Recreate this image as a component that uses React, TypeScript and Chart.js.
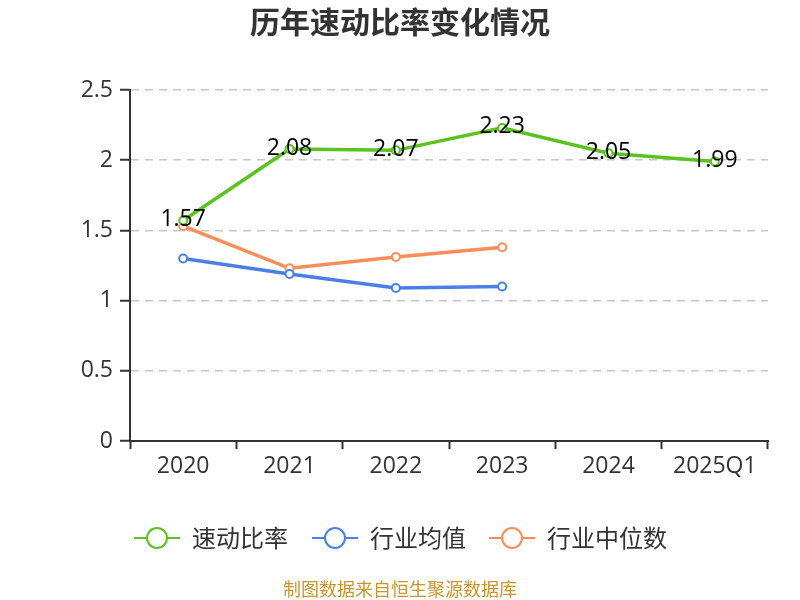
import { useEffect, useRef } from "react";
import { Chart, registerables } from "chart.js";

Chart.register(...registerables);

const FONT = "'Noto Sans CJK SC', 'Noto Sans', sans-serif";
const NUM_FONT = "'Open Sans', 'Noto Sans CJK SC', sans-serif";

const categories = ["2020", "2021", "2022", "2023", "2024", "2025Q1"];
const quickRatio = [1.57, 2.08, 2.07, 2.23, 2.05, 1.99];
const industryAvg = [1.3, 1.19, 1.09, 1.1, null, null];
const industryMedian = [1.53, 1.23, 1.31, 1.38, null, null];
const yTicks = [0, 0.5, 1, 1.5, 2, 2.5];

const seriesNames = ["速动比率", "行业均值", "行业中位数"];
const seriesColors = ["#5bc21f", "#4a7fe6", "#fd8d58"];

// labels on the main series, drawn over the points
const valueLabels = {
  id: "valueLabels",
  afterDatasetsDraw(chart: Chart) {
    const ctx = chart.ctx;
    const meta = chart.getDatasetMeta(0);
    ctx.save();
    ctx.font = `23px ${NUM_FONT}`;
    ctx.fillStyle = "#000";
    ctx.textAlign = "center";
    ctx.textBaseline = "middle";
    meta.data.forEach((pt, i) => {
      ctx.fillText(String(quickRatio[i]), pt.x, pt.y - 1);
    });
    ctx.restore();
  },
};

// title, legend and source note
const decorations = {
  id: "decorations",
  afterDraw(chart: Chart) {
    const ctx = chart.ctx;
    ctx.save();
    ctx.textAlign = "center";
    ctx.textBaseline = "middle";
    ctx.fillStyle = "#333";
    ctx.font = `bold 30px ${FONT}`;
    ctx.fillText("历年速动比率变化情况", 400, 22);

    const starts = [134, 312, 489];
    ctx.font = `24px ${FONT}`;
    ctx.textAlign = "left";
    seriesNames.forEach((name, i) => {
      const x = starts[i];
      const y = 538;
      ctx.strokeStyle = seriesColors[i];
      ctx.lineWidth = 2;
      ctx.beginPath();
      ctx.moveTo(x, y);
      ctx.lineTo(x + 46, y);
      ctx.stroke();
      ctx.beginPath();
      ctx.arc(x + 23, y, 10, 0, Math.PI * 2);
      ctx.fillStyle = "#fff";
      ctx.fill();
      ctx.stroke();
      ctx.fillStyle = "#333";
      ctx.fillText(name, x + 58, y);
    });

    ctx.textAlign = "center";
    ctx.font = `18px ${FONT}`;
    ctx.fillStyle = "#c8962a";
    ctx.fillText("制图数据来自恒生聚源数据库", 400, 589);
    ctx.restore();
  },
};

function line(label: string, data: (number | null)[], color: string) {
  return {
    label,
    data,
    borderColor: color,
    backgroundColor: "#fff",
    borderWidth: 3.5,
    pointRadius: 4,
    pointBorderWidth: 2,
    pointBackgroundColor: "#fff",
    pointBorderColor: color,
    tension: 0,
  };
}

export default function App() {
  const canvasRef = useRef<HTMLCanvasElement>(null);
  const chartRef = useRef<Chart | null>(null);

  useEffect(() => {
    if (!canvasRef.current) return;
    if (chartRef.current) chartRef.current.destroy();

    chartRef.current = new Chart(canvasRef.current, {
      type: "line",
      data: {
        labels: categories,
        datasets: [
          line(seriesNames[0], quickRatio, seriesColors[0]),
          line(seriesNames[1], industryAvg, seriesColors[1]),
          line(seriesNames[2], industryMedian, seriesColors[2]),
        ],
      },
      options: {
        animation: false,
        responsive: false,
        devicePixelRatio: 1,
        layout: { padding: { top: 90, right: 32, left: 0, bottom: 0 } },
        plugins: {
          legend: { display: false },
          title: { display: false },
          tooltip: { enabled: false },
        },
        scales: {
          x: {
            offset: true,
            afterFit(scale: any) {
              scale.height = 159;
            },
            grid: {
              offset: true,
              drawOnChartArea: false,
              drawTicks: true,
              tickLength: 8,
              tickColor: "#333",
              tickWidth: 2,
            },
            border: { color: "#333", width: 2 },
            ticks: {
              color: "#333",
              padding: 4,
              maxRotation: 0,
              autoSkip: false,
              font: { family: NUM_FONT, size: 23 },
            },
          },
          y: {
            min: yTicks[0],
            max: yTicks[yTicks.length - 1],
            afterFit(scale: any) {
              scale.width = 130;
            },
            afterBuildTicks(scale: any) {
              scale.ticks = yTicks.map((v) => ({ value: v }));
            },
            grid: {
              color: "#c8c8c8",
              lineWidth: 1.5,
              tickLength: 10,
              tickColor: "#333",
              tickWidth: 2,
              tickBorderDash: [],
            },
            border: { color: "#333", width: 2, dash: [8, 6] },
            ticks: {
              color: "#333",
              padding: 7,
              font: { family: NUM_FONT, size: 23 },
              callback: (v: any) => String(v),
            },
          },
        },
      },
      plugins: [valueLabels, decorations],
    });

    return () => {
      if (chartRef.current) {
        chartRef.current.destroy();
        chartRef.current = null;
      }
    };
  }, []);

  return (
    <div style={{ position: "fixed", left: 0, top: 0, width: 800, height: 600, background: "#fff" }}>
      <canvas ref={canvasRef} width={800} height={600} />
    </div>
  );
}
